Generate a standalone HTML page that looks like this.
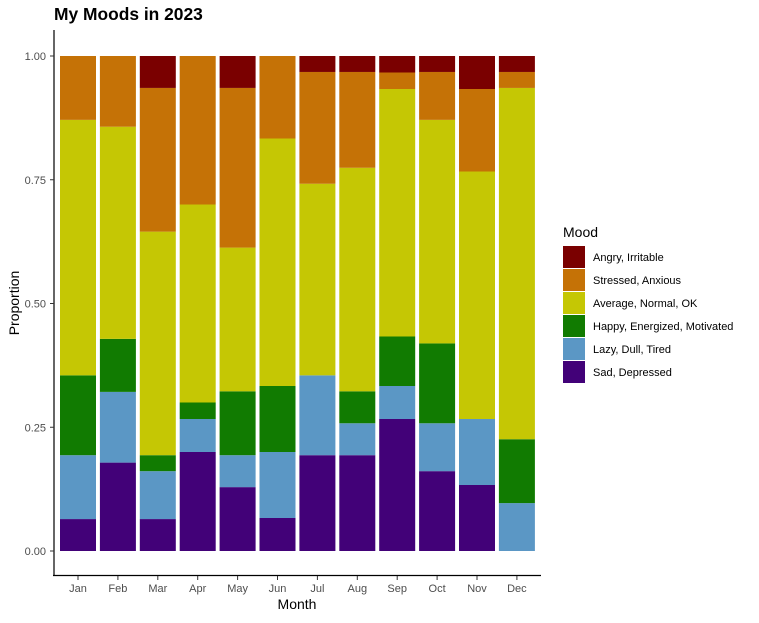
<!DOCTYPE html>
<html><head><meta charset="utf-8"><style>
body{margin:0;background:#fff;font-family:"Liberation Sans",sans-serif}
</style></head><body>
<svg id="chart" width="759" height="618" xmlns="http://www.w3.org/2000/svg" font-family="Liberation Sans, sans-serif">
<text x="54" y="20" font-size="17.4" font-weight="bold" fill="#000">My Moods in 2023</text>
<g id="bars"></g>
<line x1="54" y1="30" x2="54" y2="576" stroke="#000" stroke-width="1.2"/>
<line x1="53" y1="575.5" x2="541" y2="575.5" stroke="#000" stroke-width="1.2"/>
<g id="yticks"></g>
<g id="xticks"></g>
<text x="297" y="609" font-size="14" text-anchor="middle">Month</text>
<text transform="translate(19,303) rotate(-90)" font-size="14" text-anchor="middle">Proportion</text>
<g id="legend">
<text x="563" y="237" font-size="14">Mood</text>
</g>
</svg>
<script>
const months=["Jan","Feb","Mar","Apr","May","Jun","Jul","Aug","Sep","Oct","Nov","Dec"];
const moods=["Sad, Depressed","Lazy, Dull, Tired","Happy, Energized, Motivated","Average, Normal, OK","Stressed, Anxious","Angry, Irritable"];
const sad=[2,5,2,6,4,2,6,6,8,5,4,0];
const lazy=[4,4,3,2,2,4,5,2,2,3,4,3];
const happy=[5,3,1,1,4,4,0,2,3,5,0,4];
const average=[16,12,14,12,9,15,12,14,15,14,15,22];
const stressed=[4,4,9,9,10,5,7,6,1,3,5,1];
const angry=[0,0,2,0,2,0,1,1,1,1,2,1];
const yTicks=[0,0.25,0.5,0.75,1];
const yTickLabels=["0.00","0.25","0.50","0.75","1.00"];
const colors=["#420178","#5b97c5","#117b01","#c5c704","#c57206","#7a0000"];
const series=[sad,lazy,happy,average,stressed,angry];
const NS="http://www.w3.org/2000/svg";
const y0=551,y1=56;
const yS=v=>y0-(y0-y1)*v;
const xS=i=>78+i*39.9;
const bw=36;
function mk(t,a,p){const e=document.createElementNS(NS,t);for(const k in a)e.setAttribute(k,a[k]);p.appendChild(e);return e;}
const gb=document.getElementById("bars");
months.forEach((m,i)=>{
  const tot=series.reduce((s,a)=>s+a[i],0);
  let cum=0;
  series.forEach((arr,k)=>{
    const v=arr[i]/tot;
    if(v<=0)return;
    const top=yS(cum+v),bot=yS(cum);
    const r=mk("rect",{x:xS(i)-bw/2,y:top,width:bw,height:bot-top,fill:colors[k]},gb);
    
    
    cum+=v;
  });
});
const gy=document.getElementById("yticks");
yTicks.forEach((t,i)=>{
  const l=mk("line",{x1:50,x2:54,y1:yS(t),y2:yS(t),stroke:"#333"},gy);
  
  
  const tx=mk("text",{x:46,y:yS(t)+4,"font-size":11,"text-anchor":"end",fill:"#4d4d4d"},gy);
  tx.textContent=yTickLabels[i];
  
  
});
const gx=document.getElementById("xticks");
months.forEach((m,i)=>{
  const l=mk("line",{x1:xS(i),x2:xS(i),y1:576,y2:580,stroke:"#333"},gx);
  
  
  const tx=mk("text",{x:xS(i),y:592,"font-size":11,"text-anchor":"middle",fill:"#4d4d4d"},gx);
  tx.textContent=m;
  
  
});
const gl=document.getElementById("legend");
for(let j=0;j<6;j++){
  const k=5-j;
  const y=246+j*23;
  const r=mk("rect",{x:563,y:y,width:22,height:22,fill:colors[k]},gl);
  
  
  const t=mk("text",{x:593,y:y+15,"font-size":11,fill:"#000"},gl);
  t.textContent=moods[k];
  
  
}
</script>
</body></html>
